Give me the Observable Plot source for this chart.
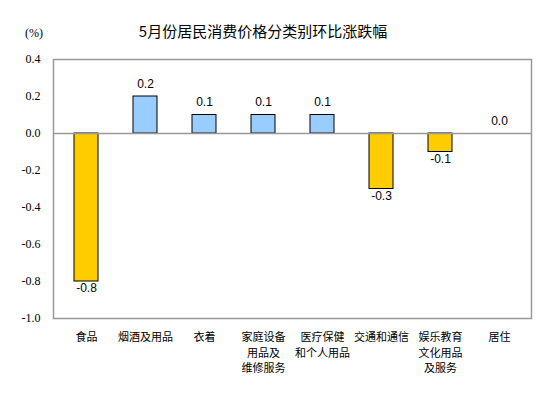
<!DOCTYPE html>
<html><head><meta charset="utf-8">
<script src="https://cdn.jsdelivr.net/npm/d3@7"></script>
<script src="https://cdn.jsdelivr.net/npm/@observablehq/plot@0.6"></script>
<style>
body{margin:0;background:#fff;}
#wrap{position:relative;width:554px;height:398px;}
#title{position:absolute;left:0;top:20px;width:526px;text-align:center;font:15px "Noto Sans CJK SC",sans-serif;color:#000;}
#unit{position:absolute;left:25px;top:26px;font:12px "Liberation Serif",serif;color:#000;}
</style></head>
<body><div id="wrap"><div id="title">5月份居民消费价格分类别环比涨跌幅</div><div id="unit">(%)</div></div>
<script>
const categories = ["食品","烟酒及用品","衣着","家庭设备\n用品及\n维修服务","医疗保健\n和个人用品","交通和通信","娱乐教育\n文化用品\n及服务","居住"];
const values = [-0.8, 0.2, 0.1, 0.1, 0.1, -0.3, -0.1, 0.0];
const yTicks = [0.4, 0.2, 0.0, -0.2, -0.4, -0.6, -0.8, -1.0];
const data = categories.map((c,i)=>({cat:c, v:values[i]}));
const chart = Plot.plot({
  width:554, height:398,
  marginLeft:53, marginRight:23, marginTop:59, marginBottom:80,
  style:{fontFamily:"'Noto Sans CJK SC', sans-serif", fontSize:"11px", background:"transparent"},
  x:{domain:categories, paddingInner:0.6, paddingOuter:0.3, label:null},
  y:{domain:[-1.0,0.4], ticks:yTicks, label:null},
  marks:[
    Plot.barY(data.filter(d=>d.v!==0),{x:"cat", y:"v", fill:d=>d.v<0?"#FFCC00":"#99CCFF", stroke:"#000", strokeWidth:1}),
    Plot.ruleY([0],{stroke:"#999", strokeWidth:1.5}),
    Plot.frame({stroke:"#999", strokeWidth:1.5}),
    Plot.axisY({ticks:yTicks, tickSize:0, tickPadding:13, tickFormat:d=>d.toFixed(1), fontFamily:"'Liberation Serif', serif", fontSize:12, label:null}),
    Plot.axisX({tickSize:0, tickPadding:12, lineHeight:1.4, fontSize:11, label:null}),
    Plot.text(data,{x:"cat", y:"v", text:d=>d.v.toFixed(1), lineAnchor:"bottom", filter:d=>d.v>=0, dy:-9, fontSize:12, fontFamily:"'Liberation Sans', Arial, sans-serif"}),
    Plot.text(data,{x:"cat", y:"v", text:d=>d.v.toFixed(1), lineAnchor:"top", filter:d=>d.v<0, dy:2, fontSize:12, fontFamily:"'Liberation Sans', Arial, sans-serif"})
  ]
});
document.getElementById("wrap").appendChild(chart);
chart.style.position="absolute"; chart.style.left="0"; chart.style.top="0";
</script></body></html>
